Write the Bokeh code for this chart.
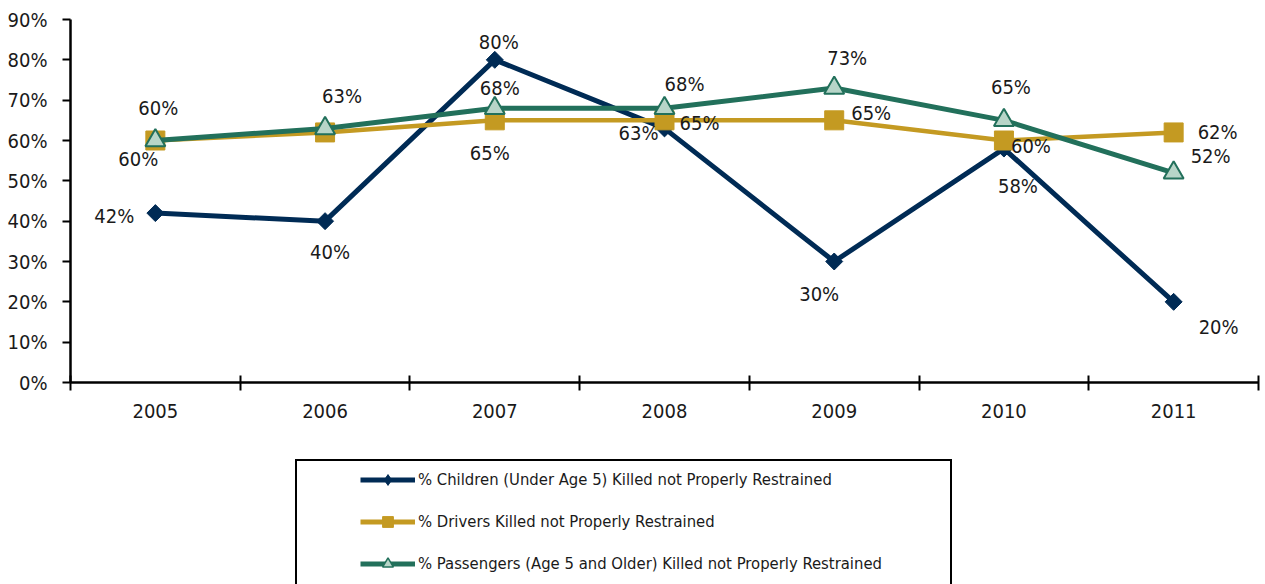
from bokeh.plotting import figure
from bokeh.layouts import column
from bokeh.models import (FixedTicker, Legend, LegendItem, ColumnDataSource, Range1d)
from bokeh.core.properties import value
from bokeh.embed import file_html
from bokeh.resources import INLINE
import numpy as np

# ---- data ----
years = [2005, 2006, 2007, 2008, 2009, 2010, 2011]
children = [42, 40, 80, 63, 30, 58, 20]
drivers = [60, 62, 65, 65, 65, 60, 62]
passengers = [60, 63, 68, 68, 73, 65, 52]
drivers_label_shown = [True, False, True, True, True, True, True]
y_ticks = [0, 10, 20, 30, 40, 50, 60, 70, 80, 90]
series_names = [
    "% Children (Under Age 5) Killed not Properly Restrained",
    "% Drivers Killed not Properly Restrained",
    "% Passengers (Age 5 and Older) Killed not Properly Restrained",
]

# ---- label offsets (screen px, +y = down) ----
children_dx = [-41, 5, 4, -26, -15, 14, 45]
children_dy = [3, 31, -18, 5, 32, 37, 25]
drivers_dx = [-17, 0, -5, 35, 37, 27, 44]
drivers_dy = [18, 0, 33, 3, -7, 5, 0]
passengers_dx = [3, 17, 5, 20, 13, 7, 37]
passengers_dy = [-33, -32, -20, -24, -30, -33, -17]

FONT = "'DejaVu Sans Condensed', 'Liberation Sans Narrow', 'Roboto Condensed', Roboto, sans-serif"
NAVY = "#002B55"
GOLD = "#C49A22"
GREEN = "#22705B"
TRI_FILL = "#B7D5C8"
TXT = "#1a1a1a"

p = figure(width=1265, height=450, output_backend="svg", toolbar_location=None,
           x_range=Range1d(2004.5, 2011.5), y_range=Range1d(0, 90),
           min_border_left=70, min_border_right=7, min_border_top=19,
           min_border_bottom=68)
p.outline_line_color = None
p.xgrid.visible = False
p.ygrid.visible = False
p.background_fill_color = "white"
p.border_fill_color = "white"

# x axis
boundaries = [y - 0.5 for y in years] + [years[-1] + 0.5]
p.xaxis.ticker = FixedTicker(ticks=years, minor_ticks=boundaries)
p.xaxis.major_tick_in = 0
p.xaxis.major_tick_out = 0
p.xaxis.minor_tick_in = 7
p.xaxis.minor_tick_out = 8
p.xaxis.minor_tick_line_color = "black"
p.xaxis.minor_tick_line_width = 2
p.xaxis.axis_line_color = "black"
p.xaxis.axis_line_width = 2.5
p.xaxis.major_label_text_font = FONT
p.xaxis.major_label_text_font_size = "20px"
p.xaxis.major_label_text_color = TXT
p.xaxis.major_label_standoff = 13
p.xaxis.major_label_overrides = {y: str(y) for y in years}

# y axis
p.yaxis.ticker = FixedTicker(ticks=y_ticks, minor_ticks=[])
p.yaxis.major_tick_in = 0
p.yaxis.major_tick_out = 8
p.yaxis.major_tick_line_color = "black"
p.yaxis.major_tick_line_width = 2
p.yaxis.axis_line_color = "black"
p.yaxis.axis_line_width = 2.5
p.yaxis.major_label_text_font = FONT
p.yaxis.major_label_text_font_size = "20px"
p.yaxis.major_label_text_color = TXT
p.yaxis.major_label_standoff = 15
p.yaxis.major_label_overrides = {t: f"{t}%" for t in y_ticks}

# series
src_c = ColumnDataSource(dict(x=years, y=children,
                              lab=[f"{v}%" for v in children],
                              dx=children_dx, dy=children_dy))
src_d = ColumnDataSource(dict(x=years, y=drivers,
                              lab=[f"{v}%" if s else "" for v, s in zip(drivers, drivers_label_shown)],
                              dx=drivers_dx, dy=drivers_dy))
src_p = ColumnDataSource(dict(x=years, y=passengers,
                              lab=[f"{v}%" for v in passengers],
                              dx=passengers_dx, dy=passengers_dy))

p.line("x", "y", source=src_c, line_color=NAVY, line_width=5)
p.scatter("x", "y", source=src_c, marker="square", angle=np.pi / 4, size=12,
          fill_color=NAVY, line_color=NAVY)
p.line("x", "y", source=src_d, line_color=GOLD, line_width=4.5)
p.scatter("x", "y", source=src_d, marker="square", size=19,
          fill_color=GOLD, line_color=GOLD)
p.line("x", "y", source=src_p, line_color=GREEN, line_width=5)
p.scatter("x", "y", source=src_p, marker="triangle", size=20,
          fill_color=TRI_FILL, line_color=GREEN, line_width=2)

for src in (src_c, src_d, src_p):
    p.text("x", "y", text="lab", source=src, x_offset="dx", y_offset="dy",
           text_font=value(FONT), text_font_size="20px", text_color=TXT,
           text_align="center", text_baseline="middle")

# ---- legend figure (below the chart) ----
Q_H = 134
q = figure(width=1265, height=Q_H, output_backend="svg", toolbar_location=None,
           x_range=Range1d(0, 1), y_range=Range1d(0, 1),
           min_border_left=0, min_border_right=0, min_border_top=0, min_border_bottom=0)
q.axis.visible = False
q.grid.visible = False
q.outline_line_color = None
q.background_fill_color = "white"
q.border_fill_color = "white"

nan = [float("nan")]
dummy = q.line(x=nan, y=nan, line_alpha=0)
lg_c = q.line(x=nan, y=nan, line_color=NAVY, line_width=5)
lg_cm = q.scatter(x=nan, y=nan, marker="diamond", fill_color=NAVY, line_color=NAVY)
lg_d = q.line(x=nan, y=nan, line_color=GOLD, line_width=5)
lg_dm = q.scatter(x=nan, y=nan, marker="square", fill_color=GOLD, line_color=GOLD)
lg_p = q.line(x=nan, y=nan, line_color=GREEN, line_width=5)
lg_pm = q.scatter(x=nan, y=nan, marker="triangle", fill_color=TRI_FILL,
                  line_color=GREEN, line_width=1.5)

# frame of q is aligned with the chart frame (starts 70px from the left)
FRAME_X0 = 70
frame_leg = Legend(items=[LegendItem(label=" ", renderers=[dummy])],
                   location=(295 - FRAME_X0, -29), orientation="vertical",
                   padding=0, spacing=0, margin=0, label_standoff=0,
                   glyph_width=640, glyph_height=150, label_width=13, label_height=150,
                   border_line_color="black", border_line_width=2, border_line_alpha=1,
                   background_fill_color="white", background_fill_alpha=1,
                   label_text_font_size="1px")
q.add_layout(frame_leg)

legend = Legend(items=[LegendItem(label=series_names[0], renderers=[lg_c, lg_cm]),
                       LegendItem(label=series_names[1], renderers=[lg_d, lg_dm]),
                       LegendItem(label=series_names[2], renderers=[lg_p, lg_pm])],
                location=(360 - FRAME_X0, 7), orientation="vertical",
                padding=0, spacing=15, margin=0, label_standoff=3,
                glyph_width=55, glyph_height=27, label_height=27,
                border_line_color=None, background_fill_alpha=0,
                label_text_font=FONT, label_text_font_size="16.5px",
                label_text_color=TXT)
q.add_layout(legend)

open("out.html", "w").write(file_html(column(p, q, spacing=0), INLINE))
